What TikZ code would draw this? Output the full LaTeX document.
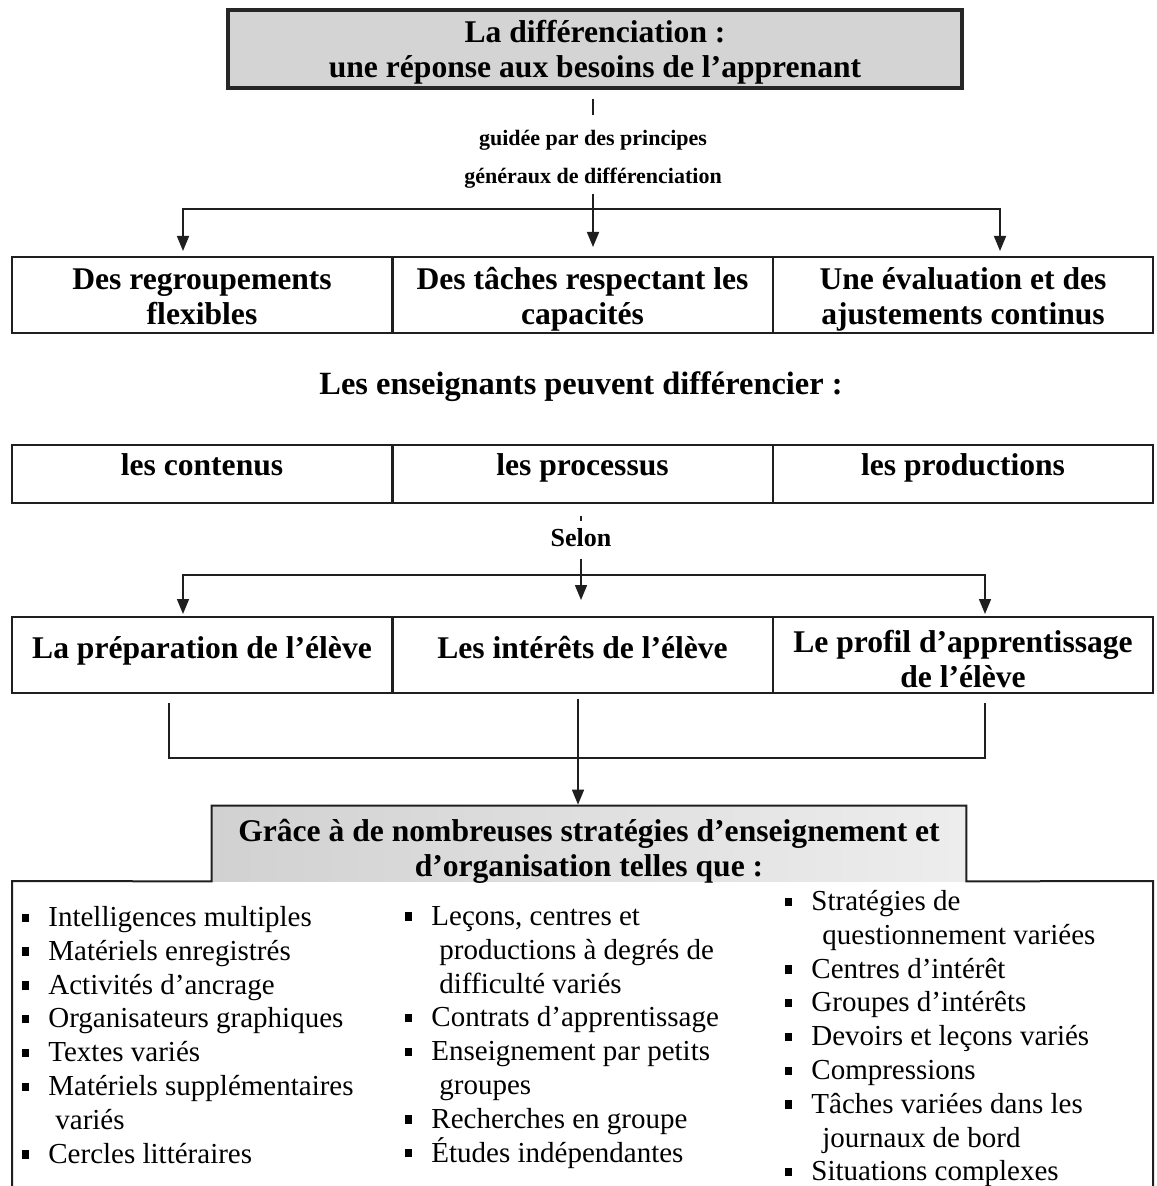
\documentclass[tikz,border=0pt]{standalone}
\usepackage{fontspec}
\setmainfont{Liberation Serif}
\usetikzlibrary{arrows.meta,calc}

% small filled square used as list bullet
\newcommand{\sqbul}{\makebox[13pt][l]{\rule[2.3pt]{3.4pt}{4.2pt}}}
% two centred lines whose baseline is the first one
\newcommand{\twolines}[2]{\begin{tabular}[t]{@{}c@{}}#1\\#2\end{tabular}}

\tikzset{
  edge/.style={draw=black!88, line width=1pt},
  conn/.style={draw=black!88, line width=0.8pt},
  arr/.style={conn, -{Triangle[length=7.5pt,width=6pt]}},
  boldtext/.style={font=\bfseries\fontsize{15.8pt}{17.5pt}\selectfont},
  titlebox/.style={draw=black!85, line width=1.6pt, fill=black!17,
    minimum width=367pt, minimum height=39pt, inner sep=0pt,
    text height=10pt, text depth=16pt, boldtext},
  cell/.style={edge, minimum width=190pt, minimum height=38pt, inner sep=0pt,
    boldtext},
  tallcell/.style={cell, text height=10pt, text depth=15pt},
  flatcell/.style={cell, minimum height=29pt, text height=10pt, text depth=8pt},
  lowcell/.style={cell, text height=10.5pt, text depth=7.5pt},
  guidetext/.style={inner sep=0pt, align=center,
    font=\bfseries\fontsize{11pt}{19pt}\selectfont},
  heading/.style={inner sep=0pt, font=\bfseries\fontsize{16.2pt}{18pt}\selectfont},
  selontext/.style={inner sep=1pt, font=\bfseries\fontsize{13pt}{15pt}\selectfont},
  gracebox/.style={left color=black!18, right color=black!7, draw=none,
    minimum width=377pt, minimum height=37.5pt, inner sep=0pt,
    text height=10pt, text depth=12.5pt, boldtext},
  listcol/.style={inner sep=0pt, align=left, anchor=north west,
    font=\fontsize{14.5pt}{16.9pt}\selectfont},
}

\begin{document}
\begin{tikzpicture}[x=0.5pt, y=-0.5pt]
\useasboundingbox (0,0) rectangle (1156,1186);

% --- title and guiding principles
\node[titlebox] (title) at (595,49) {\twolines{La différenciation :}{une réponse aux besoins de l’apprenant}};
\node[guidetext] (guide) at (593,159) {guidée par des principes\\généraux de différenciation};

% --- first row: the three principles
\node[tallcell] (t1) at (202,295)   {\twolines{Des regroupements}{flexibles}};
\node[tallcell] (t2) at (582.5,295) {\twolines{Des tâches respectant les}{capacités}};
\node[tallcell] (t3) at (963,295)   {\twolines{Une évaluation et des}{ajustements continus}};

\draw[conn] ($(title.south)+(-2,9)$) -- ($(title.south)+(-2,25)$);
\coordinate (fork1) at (593,209);
\draw[arr, shorten >=4.5pt] ($(guide.south)+(0,6)$) -- (guide.south |- t2.north);
\draw[arr, shorten >=2.5pt] (fork1) -| ($(t1.north)+(-19,0)$);
\draw[arr, shorten >=2.5pt] (fork1) -| ($(t3.north)+(37,0)$);

% --- what can be differentiated
\node[heading] (ens) at (581,387) {Les enseignants peuvent différencier :};

\node[flatcell] (p1) at (202,474)   {les contenus};
\node[flatcell] (p2) at (582.5,474) {les processus};
\node[flatcell] (p3) at (963,474)   {les productions};

% --- according to
\node[selontext] (selon) at (581,538) {Selon};
\draw[conn] ($(p2.south)+(-1.5,12)$) -- ($(p2.south)+(-1.5,17)$);

\node[lowcell] (r1) at (202,655)   {La préparation de l’élève};
\node[lowcell] (r2) at (582.5,655) {Les intérêts de l’élève};
\node[cell, text height=10pt, text depth=13pt] (r3) at (963,655)
  {\twolines{Le profil d’apprentissage}{de l’élève}};

\coordinate (fork2) at (580,575);
\draw[arr, shorten >=8pt] ($(selon.south)+(0,9)$) -- (selon.south |- r2.north);
\draw[arr, shorten >=1pt] (fork2) -| ($(r1.north)+(-19,0)$);
\draw[arr, shorten >=1pt] (fork2) -| ($(r3.north)+(22,0)$);

% --- strategies
\node[gracebox] (grace) at (589,843.5)
  {\twolines{Grâce à de nombreuses stratégies d’enseignement et}{d’organisation telles que :}};

\draw[conn] ($(r1.south)+(-33,9)$) |- ($(r3.south)+(22,64)$) -- ($(r3.south)+(22,9)$);
\coordinate (drop) at ($(r2.south)+(-4.5,5)$);
\draw[arr, shorten >=0.5pt] (drop) -- (drop |- grace.north);

% outline of the strategy list, stepping up around the heading
\coordinate (listbl) at (12,1196);
\coordinate (listtl) at (12,881);
\coordinate (listtr) at (1153,881);
\coordinate (listbr) at (1153,1196);
\draw[edge] (listbl) -- (listtl) -- (grace.south west) -- (grace.north west)
  -- (grace.north east) -- (grace.south east) -- (listtr) -- (listbr);

\node[listcol] (colA) at (22,906) {%
\sqbul Intelligences multiples\\
\sqbul Matériels enregistrés\\
\sqbul Activités d’ancrage\\
\sqbul Organisateurs graphiques\\
\sqbul Textes variés\\
\sqbul Matériels supplémentaires\\
\hspace*{16.5pt}variés\\
\sqbul Cercles littéraires};

\node[listcol] (colB) at (405,906) {%
\sqbul Leçons, centres et\\
\hspace*{17pt}productions à degrés de\\
\hspace*{17pt}difficulté variés\\
\sqbul Contrats d’apprentissage\\
\sqbul Enseignement par petits\\
\hspace*{17pt}groupes\\
\sqbul Recherches en groupe\\
\sqbul Études indépendantes};

\node[listcol] (colC) at (785,890) {%
\sqbul Stratégies de\\
\hspace*{18.5pt}questionnement variées\\
\sqbul Centres d’intérêt\\
\sqbul Groupes d’intérêts\\
\sqbul Devoirs et leçons variés\\
\sqbul Compressions\\
\sqbul Tâches variées dans les\\
\hspace*{18.5pt}journaux de bord\\
\sqbul Situations complexes};
\end{tikzpicture}
\end{document}
